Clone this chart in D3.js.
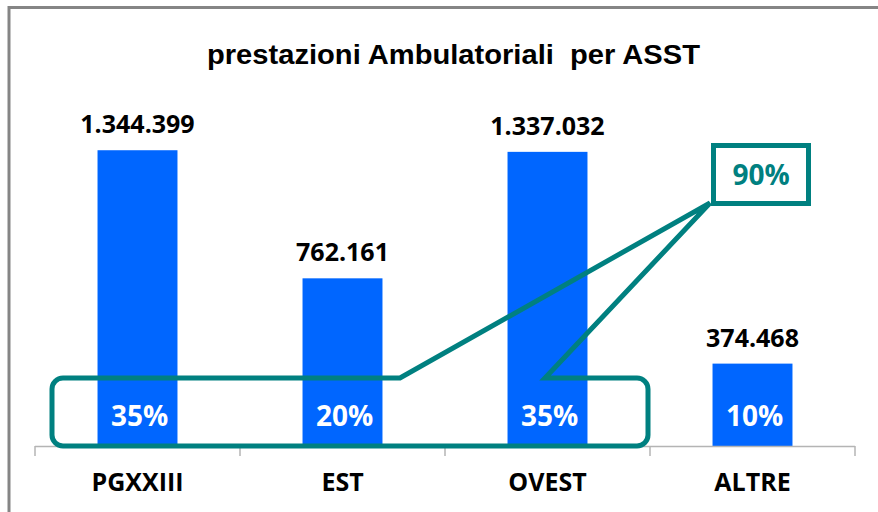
<!DOCTYPE html>
<html>
<head>
<meta charset="utf-8">
<script src="https://cdn.jsdelivr.net/npm/d3@7"></script>
<style>
  body { margin: 0; background: #fff; }
  svg { display: block; }
</style>
</head>
<body>
<svg id="chart"></svg>
<script>
// dati
const categorie = ["PGXXIII", "EST", "OVEST", "ALTRE"];
const prestazioni = [1344399, 762161, 1337032, 374468];
const percentuali = ["35%", "20%", "35%", "10%"];
const totaleGruppo = "90%";
const titolo = "prestazioni Ambulatoriali  per ASST";

const width = 878, height = 512;
const blu = "#0066ff", verde = "#008080";

const svg = d3.select("#chart")
    .attr("width", width)
    .attr("height", height);

// cornice
svg.append("path")
    .attr("d", "M9,512 V7.5 H878")
    .attr("fill", "none")
    .attr("stroke", "#858585")
    .attr("stroke-width", 3);

// titolo
svg.append("text")
    .attr("x", 207)
    .attr("y", 64)
    .attr("textLength", 493)
    .attr("lengthAdjust", "spacingAndGlyphs")
    .style("font-family", "Liberation Sans, Arial, sans-serif")
    .style("font-weight", "bold")
    .style("font-size", "28.5px")
    .style("white-space", "pre")
    .text(titolo);

const x = d3.scaleBand()
    .domain(categorie)
    .range([35, 855])
    .paddingInner(0.61)
    .paddingOuter(0.305);

const y = d3.scaleLinear()
    .domain([0, 1600000])
    .range([446, 94]);

const fmt = d3.formatLocale({ decimal: ",", thousands: ".", grouping: [3], currency: ["", "€"] }).format(",d");

// barre
svg.selectAll(".barra")
    .data(prestazioni)
    .enter()
    .append("rect")
    .attr("class", "barra")
    .attr("x", (d, i) => x(categorie[i]))
    .attr("y", d => y(d))
    .attr("width", x.bandwidth())
    .attr("height", d => y(0) - y(d))
    .style("fill", blu);

// asse
const asse = svg.append("g").attr("stroke", "#b4b4b4").attr("stroke-width", 1.5);
asse.append("line")
    .attr("x1", 35).attr("x2", 855)
    .attr("y1", 446.5).attr("y2", 446.5);
const confini = categorie.map(c => x(c) - x.step() * x.paddingInner() / 2);
confini.push(x(categorie[categorie.length - 1]) + x.bandwidth() + x.step() * x.paddingInner() / 2);
asse.selectAll("line.tick")
    .data(confini)
    .enter()
    .append("line")
    .attr("class", "tick")
    .attr("x1", d => d).attr("x2", d => d)
    .attr("y1", 446).attr("y2", 456);

// etichette categorie
svg.selectAll(".cat")
    .data(categorie)
    .enter()
    .append("text")
    .attr("class", "cat")
    .attr("x", d => x(d) + x.bandwidth() / 2)
    .attr("y", 491)
    .attr("text-anchor", "middle")
    .style("font-family", "Open Sans, sans-serif")
    .style("font-weight", "bold")
    .style("font-size", "25px")
    .text(d => d);

// valori sopra le barre
svg.selectAll(".valore")
    .data(prestazioni)
    .enter()
    .append("text")
    .attr("class", "valore")
    .attr("x", (d, i) => x(categorie[i]) + x.bandwidth() / 2)
    .attr("y", d => y(d) - 17)
    .attr("text-anchor", "middle")
    .style("font-family", "Open Sans, sans-serif")
    .style("font-weight", "bold")
    .style("font-size", "25px")
    .text(d => fmt(d));

// percentuali dentro le barre
svg.selectAll(".perc")
    .data(percentuali)
    .enter()
    .append("text")
    .attr("class", "perc")
    .attr("x", (d, i) => x(categorie[i]) + x.bandwidth() / 2 + 2)
    .attr("y", 426)
    .attr("text-anchor", "middle")
    .style("font-family", "Open Sans, sans-serif")
    .style("font-weight", "bold")
    .style("font-size", "28px")
    .style("fill", "#fff")
    .text(d => d);

// riquadro con richiamo
const r = 11;
const bx0 = 52, bx1 = 648, by0 = 378, by1 = 446;
const punta = [710, 203];
const richiamo = d3.path();
richiamo.moveTo(bx0 + r, by0);
richiamo.lineTo(400, by0);
richiamo.lineTo(punta[0], punta[1]);
richiamo.lineTo(545, by0);
richiamo.lineTo(bx1 - r, by0);
richiamo.arcTo(bx1, by0, bx1, by0 + r, r);
richiamo.lineTo(bx1, by1 - r);
richiamo.arcTo(bx1, by1, bx1 - r, by1, r);
richiamo.lineTo(bx0 + r, by1);
richiamo.arcTo(bx0, by1, bx0, by1 - r, r);
richiamo.lineTo(bx0, by0 + r);
richiamo.arcTo(bx0, by0, bx0 + r, by0, r);
richiamo.closePath();

svg.append("path")
    .attr("d", richiamo.toString())
    .attr("fill", "none")
    .attr("stroke", verde)
    .attr("stroke-width", 5)
    .attr("stroke-linejoin", "miter");

svg.append("rect")
    .attr("x", 713.5).attr("y", 145.5)
    .attr("width", 95).attr("height", 58)
    .attr("fill", "#fff")
    .attr("stroke", verde)
    .attr("stroke-width", 5);

svg.append("text")
    .attr("x", 761)
    .attr("y", 185)
    .attr("text-anchor", "middle")
    .style("font-family", "Open Sans, sans-serif")
    .style("font-weight", "bold")
    .style("font-size", "28px")
    .style("fill", verde)
    .text(totaleGruppo);
</script>
</body>
</html>
